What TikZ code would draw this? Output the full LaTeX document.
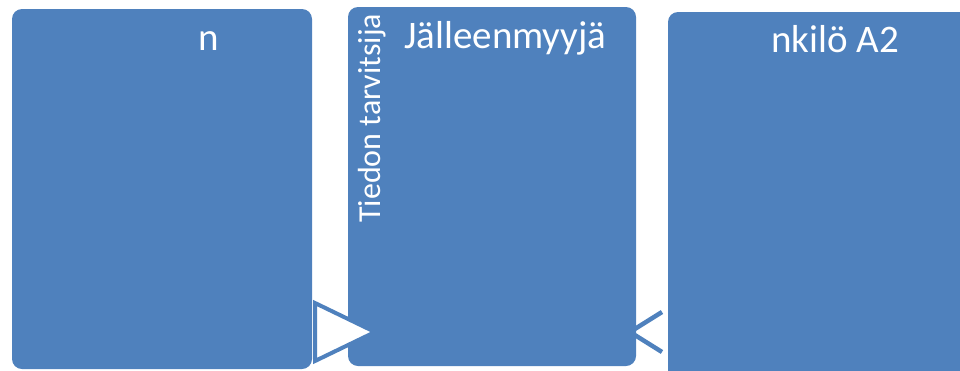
\documentclass[tikz,border=0pt]{standalone}
\usepackage{fontspec}
\setmainfont{Carlito}
\definecolor{boxblue}{RGB}{79,129,189}
\begin{document}
\begin{tikzpicture}[x=1pt,y=-1pt,
  panel/.style={fill=boxblue, rounded corners=10pt, inner sep=0pt},
  title/.style={text=white, inner sep=0pt, anchor=base west,
    font=\fontsize{39}{41}\selectfont},
  sidetitle/.style={text=white, inner sep=0pt, anchor=base west, rotate=90,
    font=\fontsize{32}{34}\selectfont},
  flowtip/.style={draw=boxblue, line width=4pt, fill=white, line join=miter},
  flowback/.style={draw=boxblue, line width=4.5pt}]
\useasboundingbox (0,0) rectangle (960,370);
\clip (0,0) rectangle (960,370);

% return arrow between the second and third panel (behind the panels)
\coordinate (b1) at (662,312);
\coordinate (b2) at (630,332);
\coordinate (b3) at (662,352);
\draw[flowback] (b1) -- (b2) -- (b3);

% panels
\node[panel, minimum width=300pt, minimum height=360pt] (p1) at (162,189) {};
\node[panel, minimum width=288pt, minimum height=359pt] (p2) at (492,186.5) {};
\node[panel, minimum width=307pt, minimum height=378pt] (p3) at (821.5,201) {};

% forward arrow between the first and second panel
\coordinate (a1) at (315,303);
\coordinate (a2) at (375,332);
\coordinate (a3) at (315,361);
\draw[flowtip] (a1) -- (a2) -- (a3) -- cycle;

% panel titles
\node[title] (t1) at (198,50) {n};
\node[title] (t2) at (404,48) {Jälleenmyyjä};
\node[title] (t3) at (771,52) {nkilö A2};
\node[sidetitle] (s2) at (380,223) {Tiedon tarvitsija};
\end{tikzpicture}
\end{document}
